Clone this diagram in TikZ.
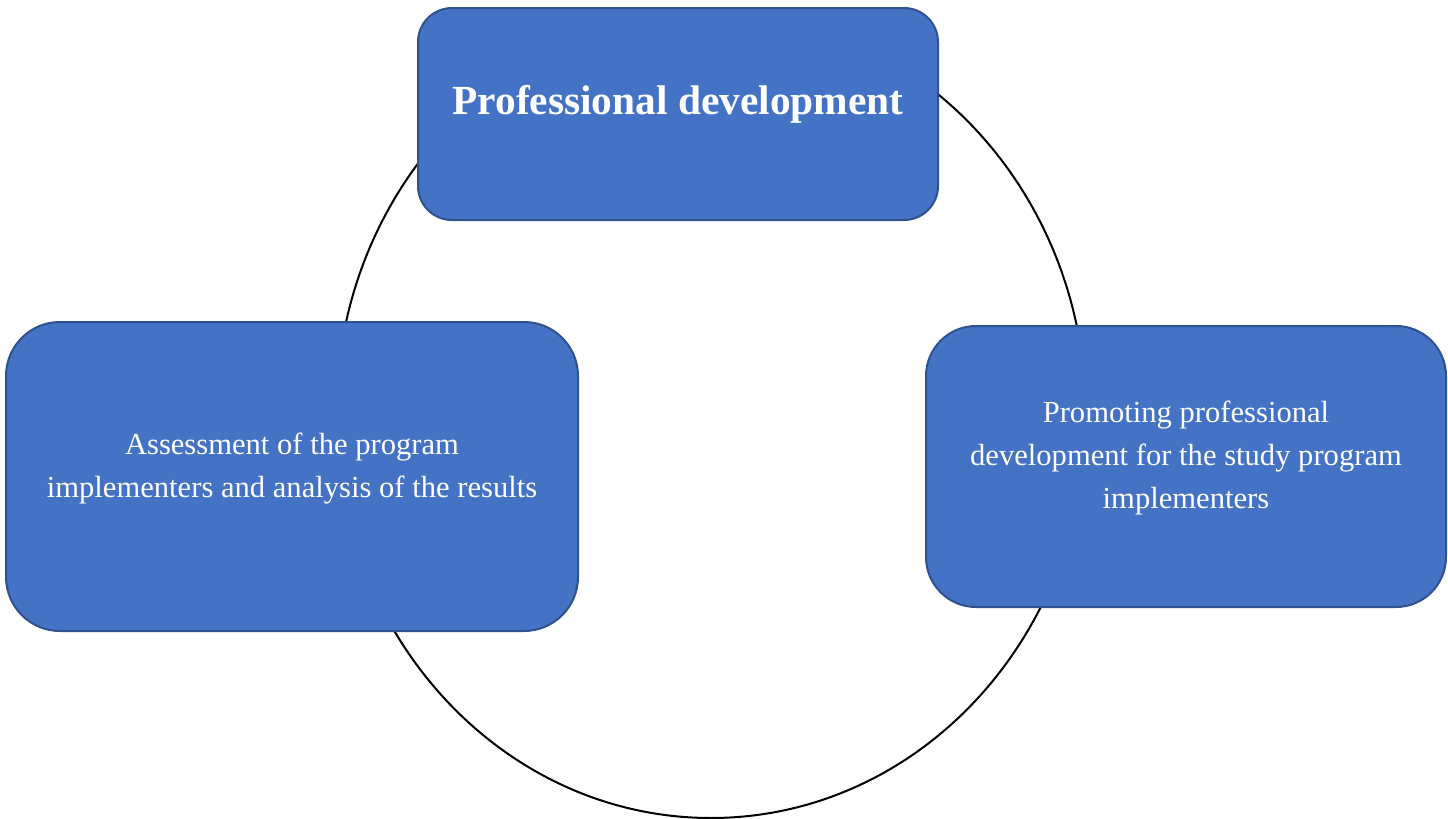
\documentclass[tikz,border=0pt]{standalone}
\usepackage{fontspec}
\setmainfont{Liberation Serif}
\usetikzlibrary{shapes.geometric}
\definecolor{boxfill}{HTML}{4472C4}
\definecolor{boxline}{HTML}{2F528F}
\tikzset{
  x=0.5pt, y=-0.5pt,
  cyclebox/.style={draw=boxline, fill=boxfill, line width=1pt, inner sep=0pt},
  boxtext/.style={text=white, align=center, font=\fontsize{15.3pt}{21.5pt}\selectfont},
  titletext/.style={text=white, align=center, font=\fontsize{20.7pt}{24pt}\selectfont\bfseries},
  cycleline/.style={draw=black, line width=1pt}
}
\begin{document}
\begin{tikzpicture}
\useasboundingbox (0,0) rectangle (1448,819);
% the cycle behind the boxes
\node[cycleline, ellipse, minimum width=375pt, minimum height=403pt, inner sep=0pt] (cycle) at (711,415) {};
% top box
\node[cyclebox, rounded corners=17pt, minimum width=260pt, minimum height=106pt] (top) at (678,114) {};
\node[titletext] (toptext) at (678,104) {Professional development};
% left box
\node[cyclebox, rounded corners=27pt, minimum width=286pt, minimum height=154.5pt] (left) at (292,476.5) {};
\node[boxtext] (lefttext) at (292,469) {Assessment of the program\\implementers and analysis of the results};
% right box
\node[cyclebox, rounded corners=25pt, minimum width=260pt, minimum height=140.5pt] (right) at (1186,466.5) {};
\node[boxtext] (righttext) at (1186,458) {Promoting professional\\development for the study program\\implementers};
\end{tikzpicture}
\end{document}
